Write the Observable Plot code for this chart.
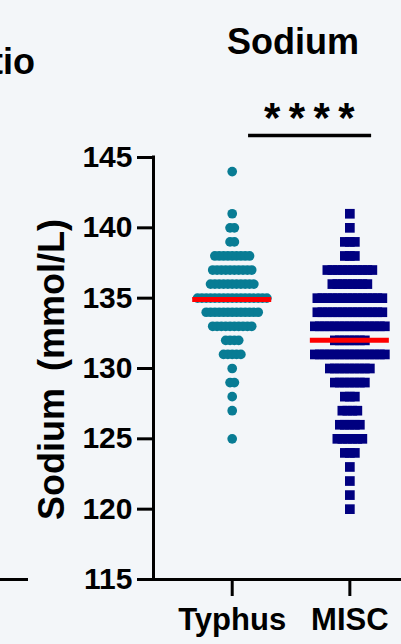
<!DOCTYPE html>
<html>
<head>
<meta charset="utf-8">
<script src="https://cdn.jsdelivr.net/npm/d3@7"></script>
<script src="https://cdn.jsdelivr.net/npm/@observablehq/plot@0.6"></script>
<style>
  html, body { margin: 0; padding: 0; background: #f3f6f9; }
  #wrap { position: relative; width: 401px; height: 644px; overflow: hidden; background: #f3f6f9;
          font-family: "Liberation Sans", Arial, Helvetica, sans-serif; font-weight: bold; color: #000; }
  #chart { position: absolute; left: 0; top: 0; }
  .title { position: absolute; font-size: 36px; line-height: 36px; white-space: nowrap; }
  #title { left: 193px; width: 200px; top: 24px; text-align: center; }
  #prev { right: 366px; top: 44px; text-align: right; }
  #prevAxis { position: absolute; left: 0; top: 578px; width: 28px; height: 3px; background: #000; }
</style>
</head>
<body>
<div id="wrap">
  <div id="chart"></div>
  <div class="title" id="prev">Ratio</div>
  <div id="prevAxis"></div>
  <div class="title" id="title">Sodium</div>
</div>
<script>
// ---- data ----
const categories = ["Typhus", "MISC"];
const typhusValues = [144, 141, 140, 139, 138, 137, 136, 135, 134, 133, 132, 131, 130, 129, 128, 127, 125];
const typhusCounts = [1, 1, 2, 2, 9, 10, 11, 17, 13, 10, 4, 5, 1, 2, 1, 1, 1];
const miscValues = [141, 140, 139, 138, 137, 136, 135, 134, 133, 132, 131, 130, 129, 128, 127, 126, 125, 124, 123, 122, 121, 120];
const miscCounts = [1, 1, 3, 3, 10, 8, 14, 14, 15, 7, 15, 9, 7, 3, 4, 5, 6, 3, 1, 1, 1, 1];
const medians = [134.9, 132];
const yTicks = [115, 120, 125, 130, 135, 140, 145];
const yLabel = "Sodium\u2009 (mmol/L)";
const sigLabel = "****";

// ---- layout ----
const W = 401, H = 644, ML = 153, MR = 0, MT = 157, MB = 65;
const X0 = -0.669, X1 = 1.439;
const pxPerUnit = (W - ML - MR) / (X1 - X0);

function swarm(values, counts, cat, spacingPx) {
  const out = [];
  values.forEach((v, k) => {
    const n = counts[k];
    for (let i = 0; i < n; i++) {
      out.push({x: cat + (i - (n - 1) / 2) * spacingPx / pxPerUnit, y: v});
    }
  });
  return out;
}
const typhusPts = swarm(typhusValues, typhusCounts, 0, 4.33);
const miscPts = swarm(miscValues, miscCounts, 1, 5);
const medianHalf = 39.5 / pxPerUnit;
const medianRows = medians.map((m, i) => ({y: m, x1: i - medianHalf, x2: i + medianHalf}));
const sigText = sigLabel.split("").join("\u2009");

const font = "Liberation Sans, Arial, Helvetica, sans-serif";

const chart = Plot.plot({
  width: W, height: H,
  marginLeft: ML, marginRight: MR, marginTop: MT, marginBottom: MB,
  style: {background: "transparent", fontFamily: font, overflow: "visible", color: "#000"},
  x: {domain: [X0, X1], axis: null},
  y: {domain: [115, 145], axis: null},
  marks: [
    Plot.ruleY([115], {x1: X0, x2: X1, stroke: "#000", strokeWidth: 3}),
    Plot.ruleX([X0], {y1: 115, y2: 145, stroke: "#000", strokeWidth: 3, strokeLinecap: "square"}),
    Plot.axisY({ticks: yTicks, tickSize: 16, tickPadding: 5, strokeWidth: 3, fontSize: 30,
                fontWeight: "bold", label: null, tickFormat: d => String(d)}),
    Plot.axisX({ticks: [0, 1], tickFormat: i => categories[i], tickSize: 17, tickPadding: 11,
                strokeWidth: 3, fontSize: 31, fontWeight: "bold", label: null}),
    Plot.text([yLabel], {frameAnchor: "left", dx: -101, dy: 1, rotate: -90, fontSize: 36, fontWeight: "bold",
                         textAnchor: "middle", lineAnchor: "middle"}),
    Plot.dot(typhusPts, {x: "x", y: "y", r: 4.85, fill: "#087c94", stroke: null}),
    Plot.dot(miscPts, {x: "x", y: "y", r: 5.47, symbol: "square", fill: "#000080", stroke: null}),
    Plot.ruleY(medianRows, {y: "y", x1: "x1", x2: "x2", stroke: "#ff0000", strokeWidth: 5}),
    Plot.ruleY([146.56], {x1: 0.139, x2: 1.185, stroke: "#000", strokeWidth: 3.5}),
    Plot.text([sigText], {x: 0.655, y: 146.56, dy: -4, fontSize: 42, fontWeight: "bold",
                          lineAnchor: "bottom", textAnchor: "middle"})
  ]
});
document.getElementById("chart").appendChild(chart);
</script>
</body>
</html>
